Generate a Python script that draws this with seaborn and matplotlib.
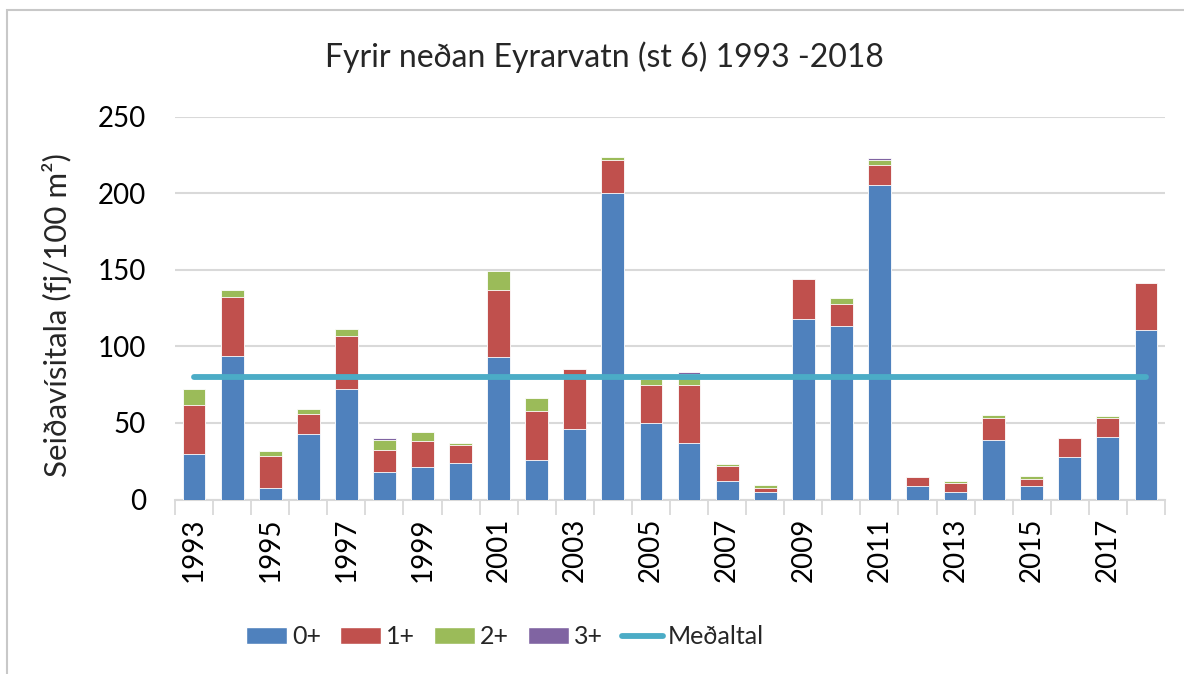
import numpy as np
import pandas as pd
import matplotlib
matplotlib.use('Agg')
import matplotlib.pyplot as plt
import seaborn as sns
from matplotlib.patches import Patch, Rectangle
from matplotlib.lines import Line2D

# gögn lesin af myndinni
years = [str(y) for y in range(1993, 2019)]
age0 = [30, 94, 7.6, 43, 72, 18, 21, 24, 93, 25.5, 46, 200, 50, 37, 12, 4.6, 117.6, 113, 205.7, 9, 4.6, 38.6, 9, 28, 41, 110.5]
age1 = [32, 38, 20.5, 13, 35, 14.3, 17, 11.5, 44, 32, 39.5, 22, 24.6, 38, 10, 2.8, 26.4, 14.4, 12.8, 6, 6.1, 14.6, 4.6, 12, 12, 31]
age2 = [10, 4.5, 3.3, 3, 4.4, 6.4, 6, 1.5, 12, 9, 0, 1.5, 4, 7, 1.5, 1.8, 0, 4.5, 3, 0, 1.5, 1.7, 1.5, 0, 1.7, 0]
age3 = [0, 0, 0, 0, 0, 1.3, 0, 0, 0, 0, 0, 0, 0, 1.5, 0, 0, 0, 0, 1.7, 0, 0, 0, 0, 0, 0, 0]
mean_value = 80

series_names = ['0+', '1+', '2+', '3+']
colors = ['#4F81BD', '#C0504D', '#9BBB59', '#8064A2']
line_color = '#4BACC6'

df = pd.DataFrame({'ar': years, '0+': age0, '1+': age1, '2+': age2, '3+': age3})
cum = df[series_names].cumsum(axis=1)

sns.set_theme(style='white')
plt.rcParams['font.family'] = ['Lato', 'DejaVu Sans']

fig = plt.figure(figsize=(11.84, 6.74), dpi=100)
ax = fig.add_axes([175 / 1184, 1 - 499.5 / 674, 990 / 1184, 382.8 / 674])

# staflaðar súlur: teiknað ofan frá og niður
for name, col in reversed(list(zip(series_names, colors))):
    sns.barplot(x=df['ar'], y=cum[name], color=col, width=0.6, ax=ax,
                edgecolor='white', linewidth=0.6, saturation=1, zorder=3)

# meðaltal
xpos = np.arange(len(years))
ax.plot(xpos, [mean_value] * len(years), color=line_color, lw=4.2, solid_capstyle='round', zorder=4)

ax.set_xlim(-0.5, len(years) - 0.5)
ax.set_ylim(0, 250)
ax.set_yticks([0, 50, 100, 150, 200, 250])
ax.grid(axis='y', color='#D9D9D9', lw=1.5, zorder=0)
ax.set_axisbelow(True)
ax.tick_params(axis='y', labelsize=20, length=0, pad=21, labelcolor='black')
ax.set_xlabel('')
ax.set_ylabel('')

ax.set_xticks(xpos)
ax.set_xticklabels([y if i % 2 == 0 else '' for i, y in enumerate(years)], rotation=90)
ax.tick_params(axis='x', which='major', length=0, labelsize=20, pad=13, labelcolor='black')
ax.set_xticks(np.arange(-0.5, len(years)), minor=True)
ax.tick_params(axis='x', which='minor', length=11, width=1.3, color='#D9D9D9', bottom=True)

for s in ['top', 'right', 'left']:
    ax.spines[s].set_visible(False)
ax.spines['bottom'].set_color('#D9D9D9')
ax.spines['bottom'].set_linewidth(1.5)

fig.text(604 / 1184, 1 - 57 / 674, 'Fyrir neðan Eyrarvatn (st 6) 1993 -2018', ha='center', va='center', fontsize=23)
fig.text(57 / 1184, 1 - 315 / 674, 'Seiðavísitala (fj/100 m²)', ha='center', va='center', rotation=90, fontsize=22.5)

handles = [Patch(facecolor=c, label=n) for n, c in zip(series_names, colors)]
handles.append(Line2D([0], [0], color=line_color, lw=4.2, solid_capstyle='round', label='Meðaltal'))
fig.legend(handles=handles, loc='center', bbox_to_anchor=(505 / 1184, 1 - 637 / 674), ncol=5,
           frameon=False, fontsize=18, handlelength=1.65, handleheight=0.68, handletextpad=0.2,
           columnspacing=0.75)

fig.patches.append(Rectangle((7 / 1184, -0.1), 1.2, 1 - 10 / 674 + 0.1, transform=fig.transFigure,
                             fill=False, edgecolor='#C8C8C8', lw=1.5))

fig.savefig('out.png', dpi=100, facecolor='white')
